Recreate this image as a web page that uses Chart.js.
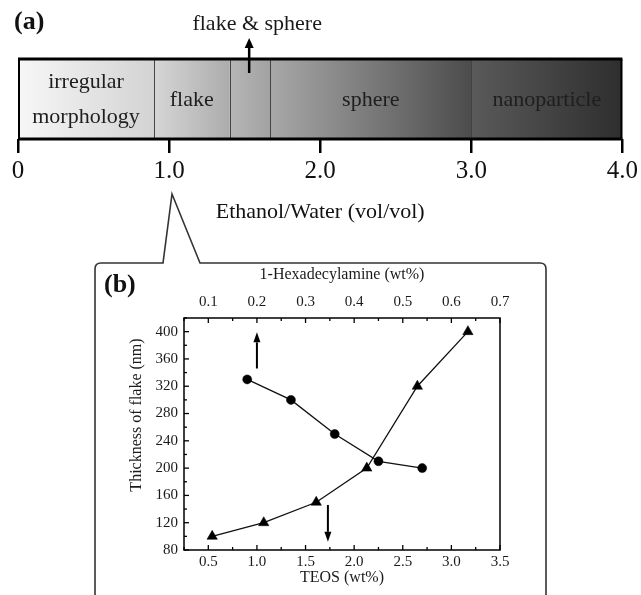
<!DOCTYPE html>
<html>
<head>
<meta charset="utf-8">
<script src="https://cdn.jsdelivr.net/npm/chart.js@4.4.1/dist/chart.umd.min.js"></script>
<style>
  html, body { margin: 0; padding: 0; background: #fff; }
  #wrap { position: relative; width: 641px; height: 595px; overflow: hidden; }
  #wrap canvas { position: absolute; left: 0; top: 0; }
</style>
</head>
<body>
<div id="wrap">
  <canvas id="rangeChart" width="641" height="595"></canvas>
  <canvas id="flakeChart" width="641" height="595"></canvas>
</div>
<script>
// ==========================================
// DATA
// ==========================================

// (a) morphology bands along the ethanol/water ratio
const bandNames = [["irregular", "morphology"], "flake", "", "sphere", "nanoparticle"];
const bandStarts = [0, 0.9, 1.4, 1.67, 3.0];
const bandEnds = [0.9, 1.4, 1.67, 3.0, 4.0];
const mixedBandLabel = "flake & sphere";
const mixedArrowAt = 1.53;

// (b) flake thickness vs TEOS (bottom axis) and 1-hexadecylamine (top axis)
const teosValues = [0.54, 1.07, 1.61, 2.13, 2.65, 3.17];
const teosThickness = [100, 120, 150, 200, 320, 400];
const hdaValues = [0.18, 0.27, 0.36, 0.45, 0.54];
const hdaThickness = [330, 300, 250, 210, 200];

// direction arrows in (b): TEOS position, tail and tip thickness
const arrowTeos = [1.0, 1.73];
const arrowFrom = [346, 146];
const arrowTo = [399, 92];

// ==========================================
// STYLES
// ==========================================

const serif = '"Liberation Serif", "Times New Roman", serif';
Chart.defaults.font.family = serif;
Chart.defaults.color = "#1a1a1a";

const bandShades = [
  ["#f7f7f7", "#d3d3d3"],
  ["#d6d6d6", "#acacac"],
  ["#b6b6b6", "#a2a2a2"],
  ["#a8a8a8", "#4c4c4c"],
  ["#5a5a5a", "#2e2e2e"],
];

function drawArrow(ctx, x, y0, y1, head, half, width) {
  const dir = Math.sign(y1 - y0);
  ctx.lineWidth = width;
  ctx.beginPath();
  ctx.moveTo(x, y0);
  ctx.lineTo(x, y1 - dir * head);
  ctx.stroke();
  ctx.beginPath();
  ctx.moveTo(x, y1);
  ctx.lineTo(x - half, y1 - dir * head);
  ctx.lineTo(x + half, y1 - dir * head);
  ctx.closePath();
  ctx.fill();
}

// ==========================================
// (a) RANGE BAR
// ==========================================

const rangeBandsPlugin = {
  id: "rangeBands",
  afterDatasetsDraw(chart) {
    const { ctx, chartArea: ca, scales: { x } } = chart;
    ctx.save();

    // band separators
    ctx.strokeStyle = "#444";
    ctx.lineWidth = 1;
    bandStarts.slice(1).forEach((v) => {
      const px = Math.round(x.getPixelForValue(v)) + 0.5;
      ctx.beginPath();
      ctx.moveTo(px, ca.top);
      ctx.lineTo(px, ca.bottom);
      ctx.stroke();
    });

    // frame
    ctx.strokeStyle = "#000";
    ctx.lineWidth = 3;
    ctx.beginPath();
    ctx.moveTo(ca.left, ca.top);
    ctx.lineTo(ca.right, ca.top);
    ctx.moveTo(ca.left, ca.bottom);
    ctx.lineTo(ca.right, ca.bottom);
    ctx.stroke();
    ctx.lineWidth = 2;
    ctx.beginPath();
    ctx.moveTo(ca.left + 1, ca.top);
    ctx.lineTo(ca.left + 1, ca.bottom);
    ctx.moveTo(ca.right - 1, ca.top);
    ctx.lineTo(ca.right - 1, ca.bottom);
    ctx.stroke();

    // band labels
    ctx.fillStyle = "#1e1e1e";
    ctx.font = "22px " + serif;
    ctx.textAlign = "center";
    ctx.textBaseline = "middle";
    const cy = (ca.top + ca.bottom) / 2;
    bandNames.forEach((name, i) => {
      const cx = x.getPixelForValue((bandStarts[i] + bandEnds[i]) / 2);
      const lines = Array.isArray(name) ? name : [name];
      lines.forEach((ln, j) => {
        ctx.fillText(ln, cx, cy + 1 + (j - (lines.length - 1) / 2) * 35);
      });
    });

    // mixed band callout
    const ax = x.getPixelForValue(mixedArrowAt);
    ctx.fillStyle = "#000";
    ctx.strokeStyle = "#000";
    drawArrow(ctx, ax, ca.top + 14, ca.top - 21, 10, 4.5, 2.5);
    ctx.fillStyle = "#1a1a1a";
    ctx.fillText(mixedBandLabel, ax + 8, ca.top - 35);

    // panel letter
    ctx.font = "bold 26px " + serif;
    ctx.textAlign = "left";
    ctx.fillStyle = "#111";
    ctx.fillText("(a)", 14, 22);
    ctx.restore();
  },
};

const rangeChart = new Chart(document.getElementById("rangeChart"), {
  type: "bar",
  data: {
    labels: ["ratio"],
    datasets: [
      {
        data: bandStarts.map((s, i) => ({ x: [s, bandEnds[i]], y: "ratio" })),
        backgroundColor: (c) => {
          const chart = c.chart;
          if (!chart.chartArea) return "#ccc";
          const x = chart.scales.x;
          const i = c.dataIndex;
          const g = chart.ctx.createLinearGradient(
            x.getPixelForValue(bandStarts[i]), 0,
            x.getPixelForValue(bandEnds[i]), 0
          );
          g.addColorStop(0, bandShades[i][0]);
          g.addColorStop(1, bandShades[i][1]);
          return g;
        },
        borderWidth: 0,
        barPercentage: 1,
        categoryPercentage: 1,
      },
    ],
  },
  options: {
    indexAxis: "y",
    responsive: false,
    animation: false,
    events: [],
    layout: { padding: { left: 18, right: 18, top: 59, bottom: 335 } },
    plugins: { legend: { display: false }, tooltip: { enabled: false } },
    scales: {
      y: { display: false },
      x: {
        type: "linear",
        min: 0,
        max: 4,
        afterFit: (s) => { s.height = 121; },
        ticks: {
          stepSize: 1,
          padding: 3,
          color: "#111",
          font: { size: 25 },
          maxRotation: 0,
          callback: (v) => (v === 0 ? "0" : Number(v).toFixed(1)),
        },
        grid: { drawOnChartArea: false, drawTicks: true, tickLength: 14, lineWidth: 2.5, color: "#000" },
        border: { display: false },
        title: {
          display: true,
          text: "Ethanol/Water (vol/vol)",
          color: "#111",
          font: { size: 22 },
          padding: { top: 0, bottom: 35 },
        },
      },
    },
  },
  plugins: [rangeBandsPlugin],
});

// ==========================================
// (b) FLAKE THICKNESS
// ==========================================

function isStep(v, step) {
  const k = v / step;
  return Math.abs(k - Math.round(k)) < 1e-6;
}

const flakePanelPlugin = {
  id: "flakePanel",
  beforeDraw(chart) {
    // rounded box with callout pointing to ratio 1.0
    const { ctx } = chart;
    const left = 95, right = 546, top = 263, r = 6;
    ctx.save();
    ctx.strokeStyle = "#333";
    ctx.lineWidth = 1.6;
    ctx.beginPath();
    ctx.moveTo(left, 600);
    ctx.lineTo(left, top + r);
    ctx.quadraticCurveTo(left, top, left + r, top);
    ctx.lineTo(163, top);
    ctx.lineTo(172, 194);
    ctx.lineTo(200, top);
    ctx.lineTo(right - r, top);
    ctx.quadraticCurveTo(right, top, right, top + r);
    ctx.lineTo(right, 600);
    ctx.stroke();
    ctx.restore();
  },
  afterDraw(chart) {
    const { ctx, chartArea: ca, scales } = chart;
    ctx.save();

    // frame
    ctx.strokeStyle = "#000";
    ctx.lineWidth = 1.5;
    ctx.strokeRect(ca.left, ca.top, ca.width, ca.height);

    // inward ticks
    ctx.lineWidth = 1.3;
    const tickSets = [
      [scales.x, 0.5, "bottom"],
      [scales.x2, 0.1, "top"],
      [scales.y, 40, "left"],
    ];
    tickSets.forEach(([s, major, side]) => {
      s.ticks.forEach((t) => {
        const len = isStep(t.value, major) ? 5 : 3;
        const p = s.getPixelForValue(t.value);
        ctx.beginPath();
        if (side === "bottom") { ctx.moveTo(p, ca.bottom); ctx.lineTo(p, ca.bottom - len); }
        if (side === "top") { ctx.moveTo(p, ca.top); ctx.lineTo(p, ca.top + len); }
        if (side === "left") { ctx.moveTo(ca.left, p); ctx.lineTo(ca.left + len, p); }
        ctx.stroke();
      });
    });

    // direction arrows
    ctx.fillStyle = "#000";
    arrowTeos.forEach((v, i) => {
      drawArrow(
        ctx,
        scales.x.getPixelForValue(v),
        scales.y.getPixelForValue(arrowFrom[i]),
        scales.y.getPixelForValue(arrowTo[i]),
        10, 3.5, 2
      );
    });

    // y title
    ctx.fillStyle = "#1a1a1a";
    ctx.font = "16px " + serif;
    ctx.textAlign = "center";
    ctx.textBaseline = "middle";
    ctx.translate(137, 415);
    ctx.rotate(-Math.PI / 2);
    ctx.fillText("Thickness of flake (nm)", 0, 0);
    ctx.setTransform(1, 0, 0, 1, 0, 0);

    // panel letter
    ctx.font = "bold 26px " + serif;
    ctx.textAlign = "left";
    ctx.fillStyle = "#111";
    ctx.fillText("(b)", 104, 285);
    ctx.restore();
  },
};

const flakeChart = new Chart(document.getElementById("flakeChart"), {
  type: "line",
  data: {
    datasets: [
      {
        label: "TEOS",
        xAxisID: "x",
        yAxisID: "y",
        data: teosValues.map((v, i) => ({ x: v, y: teosThickness[i] })),
        borderColor: "#111",
        borderWidth: 1.3,
        pointStyle: "triangle",
        pointRadius: 6,
        pointBackgroundColor: "#000",
        pointBorderColor: "#000",
        pointBorderWidth: 0.5,
        tension: 0,
      },
      {
        label: "1-Hexadecylamine",
        xAxisID: "x2",
        yAxisID: "y",
        data: hdaValues.map((v, i) => ({ x: v, y: hdaThickness[i] })),
        borderColor: "#111",
        borderWidth: 1.3,
        pointStyle: "circle",
        pointRadius: 4.5,
        pointBackgroundColor: "#000",
        pointBorderColor: "#000",
        pointBorderWidth: 0.5,
        tension: 0,
      },
    ],
  },
  options: {
    responsive: false,
    animation: false,
    events: [],
    layout: { padding: { left: 0, right: 141, top: 255, bottom: 0 } },
    plugins: { legend: { display: false }, tooltip: { enabled: false } },
    scales: {
      x: {
        type: "linear",
        position: "bottom",
        min: 0.25,
        max: 3.5,
        afterFit: (s) => { s.height = 45; },
        ticks: {
          stepSize: 0.25,
          autoSkip: false,
          maxRotation: 0,
          padding: 3,
          font: { size: 15 },
          callback: (v) => (isStep(v, 0.5) ? Number(v).toFixed(1) : ""),
        },
        grid: { display: false, drawTicks: false },
        border: { display: false },
        title: { display: true, text: "TEOS (wt%)", font: { size: 16 }, padding: { top: 0, bottom: 8 } },
      },
      x2: {
        type: "linear",
        position: "top",
        min: 0.05,
        max: 0.7,
        afterFit: (s) => { s.height = 63; },
        ticks: {
          stepSize: 0.05,
          autoSkip: false,
          maxRotation: 0,
          padding: 7,
          font: { size: 15 },
          callback: (v) => (isStep(v, 0.1) ? Number(v).toFixed(1) : ""),
        },
        grid: { display: false, drawTicks: false },
        border: { display: false },
        title: { display: true, text: "1-Hexadecylamine (wt%)", font: { size: 16 }, padding: { top: 10, bottom: 0 } },
      },
      y: {
        type: "linear",
        min: 80,
        max: 420,
        afterFit: (s) => { s.width = 184; },
        ticks: {
          stepSize: 20,
          autoSkip: false,
          padding: 6,
          font: { size: 15 },
          callback: (v) => (isStep(v, 40) ? String(v) : ""),
        },
        grid: { display: false, drawTicks: false },
        border: { display: false },
      },
    },
  },
  plugins: [flakePanelPlugin],
});
</script>
</body>
</html>
